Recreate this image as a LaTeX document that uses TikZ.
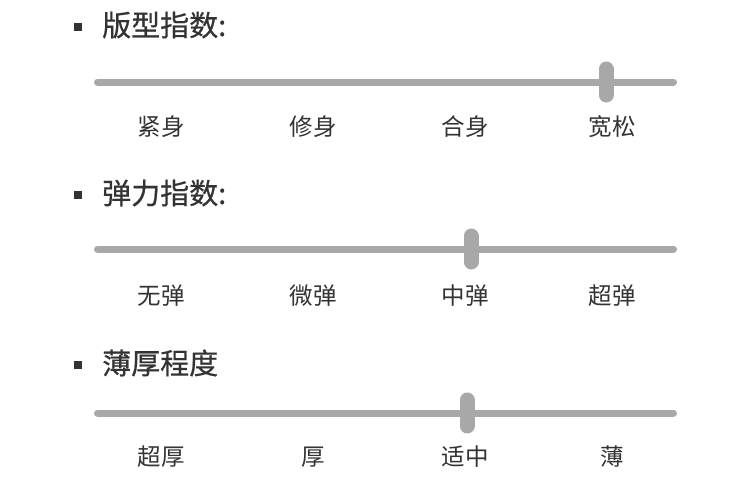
\documentclass[tikz,border=0pt]{standalone}
\usepackage{fontspec}
\newfontfamily\cjk{Noto Sans CJK SC}
\newfontfamily\cjkhead[FakeBold=0.6]{Noto Sans CJK SC}
\usetikzlibrary{positioning}
\definecolor{slidergray}{HTML}{A8A8A8}
\definecolor{textdark}{HTML}{333333}

\begin{document}
\begin{tikzpicture}[x=1pt, y=-1pt,
    title/.style={anchor=west, inner sep=0pt, text=textdark, font=\cjkhead\fontsize{29}{29}\selectfont},
    tick/.style={inner sep=0pt, text=textdark, font=\cjk\fontsize{23.5}{23.5}\selectfont},
    track/.style={slidergray, line width=7pt, line cap=round},
    knob/.style={slidergray, line width=15pt, line cap=round}]
  \useasboundingbox[fill=white] (0,0) rectangle (750,498);
  % one block per index: title, track with knob, four labels
  \foreach \n/\ty/\by/\ly/\kx/\ttl/\la/\lb/\lc/\ld in {
      a/25/82/127/606/{版型指数:}/紧身/修身/合身/宽松,
      b/193/249/296/471/{弹力指数:}/无弹/微弹/中弹/超弹,
      c/363/413/457/467/{薄厚程度}/超厚/厚/适中/薄} {
    \fill[textdark] (74,\ty-2) rectangle (82,\ty+6);
    \node[title] (title\n) at (102,\ty) {\ttl};
    \draw[track] (97.5,\by) -- (673.5,\by);
    \draw[knob] (\kx,\by-13) -- (\kx,\by+13);
    \node[tick] (\n1) at (161,\ly) {\la};
    \node[tick] (\n2) at (313,\ly) {\lb};
    \node[tick] (\n3) at (465,\ly) {\lc};
    \node[tick] (\n4) at (612,\ly) {\ld};
  }
\end{tikzpicture}
\end{document}
